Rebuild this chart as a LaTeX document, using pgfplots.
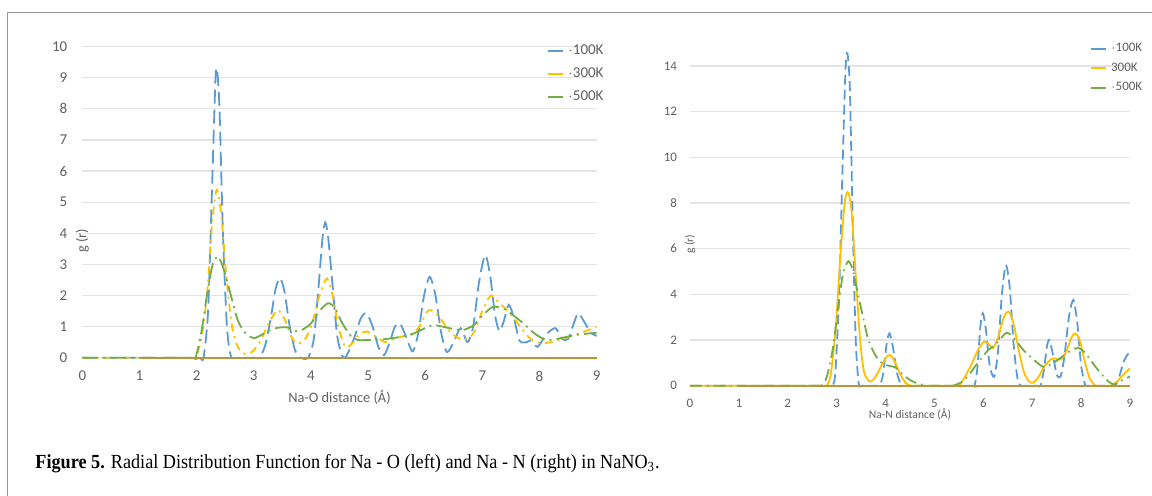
\documentclass[border=0pt]{standalone}
\usepackage{fontspec}
\setmainfont{Carlito}
\newfontfamily\capfont[FakeStretch=0.91]{Liberation Serif}
\usepackage{pgfplots}
\pgfplotsset{compat=1.18}

\definecolor{cblue}{RGB}{91,155,213}
\definecolor{cyellow}{RGB}{255,192,0}
\definecolor{cgreen}{RGB}{112,173,71}
\definecolor{cbase}{RGB}{184,148,58}
\definecolor{cgrid}{RGB}{228,228,228}
\definecolor{ctext}{RGB}{96,96,96}
\definecolor{cframe}{RGB}{150,150,150}

\pgfplotsset{
  rdf/.style={
    scale only axis,
    xmin=0, xmax=9, ymin=0,
    xtick={0,...,9},
    axis line style={draw=none},
    tick style={draw=none},
    ymajorgrids, grid style={cgrid, line width=0.6pt},
    /pgf/number format/assume math mode=true,
    ticklabel style={text=ctext},
    label style={text=ctext},
    clip=false,
    legend cell align=left,
    legend style={draw=none, fill=none, inner sep=0pt, text=ctext},
    legend image code/.code={\draw[#1, solid, line width=0.9pt] (0pt,0pt) -- (7.5pt,0pt);},
    every axis plot/.append style={line width=0.9pt, smooth, tension=0.45},
  },
}

\begin{document}
\begin{tikzpicture}
\path[use as bounding box] (0,0) rectangle (576pt,248pt);
\draw[cframe, line width=0.6pt] (3.75pt,-2pt) -- (3.75pt,241.65pt) -- (580pt,241.65pt);

% left: Na-O
\begin{axis}[rdf,
  at={(41.2pt,69.15pt)}, anchor=south west,
  width=257.1pt, height=155.5pt,
  ymax=10, ytick={0,...,10},
  ticklabel style={font=\fontsize{7.5}{8}\selectfont},
  xticklabel style={yshift=-3pt},
  yticklabel style={xshift=-4pt},
  xlabel={Na-O distance (Å)},
  ylabel={g (r)},
  label style={font=\fontsize{7.2}{8}\selectfont},
  x label style={at={(axis description cs:0.5,0)}, anchor=center, yshift=-20pt},
  y label style={at={(axis description cs:0,0.5)}, anchor=center, xshift=-19.4pt},
  legend style={at={(rel axis cs:0.9035,1.02)}, anchor=north west,
    font=\fontsize{7.5}{8}\selectfont, row sep=1pt},
]
\addplot[cblue, dash pattern=on 7pt off 3pt] coordinates {
(0,0)(1,0)(2,0)(2.06,0)(2.12,0)(2.2,1.5)(2.27,5.5)(2.33,9.0)(2.36,9.2)(2.4,8.0)(2.46,4.0)(2.53,1.0)(2.6,0.05)(2.7,0)(3.0,0)(3.1,0)(3.2,0.4)(3.3,1.3)(3.38,2.2)(3.46,2.56)(3.54,2.1)(3.62,1.1)(3.72,0.25)(3.82,0)(3.95,0)(4.05,0.6)(4.13,2.2)(4.2,3.8)(4.25,4.35)(4.3,3.9)(4.38,2.3)(4.46,0.7)(4.55,0.05)(4.62,0.05)(4.75,0.6)(4.87,1.25)(4.97,1.43)(5.08,1.0)(5.18,0.35)(5.28,0.08)(5.38,0.5)(5.47,1.0)(5.56,1.1)(5.66,0.7)(5.78,0.2)(5.88,0.8)(5.98,2.0)(6.08,2.6)(6.18,2.0)(6.28,0.8)(6.38,0.18)(6.5,0.5)(6.62,0.95)(6.74,0.5)(6.84,1.0)(6.94,2.4)(7.05,3.3)(7.14,2.6)(7.22,1.4)(7.3,0.85)(7.38,1.2)(7.46,1.7)(7.55,1.3)(7.65,0.55)(7.78,0.5)(7.85,0.55)(7.97,0.35)(8.12,0.75)(8.28,0.95)(8.4,0.6)(8.5,0.6)(8.6,1.1)(8.68,1.43)(8.8,1.1)(8.9,0.8)(9,0.7)
};
\addlegendentry{$\cdot$100K}
\addplot[cyellow, dash pattern=on 4pt off 2.5pt on 1pt off 2.5pt] coordinates {
(0,0)(1,0)(1.92,0)(1.98,0)(2.08,0.6)(2.18,2.0)(2.27,4.3)(2.35,5.4)(2.43,4.6)(2.52,2.6)(2.62,1.0)(2.72,0.35)(2.85,0.12)(2.98,0.2)(3.12,0.55)(3.26,1.1)(3.42,1.53)(3.55,1.2)(3.65,0.7)(3.76,0.45)(3.9,0.6)(4.02,1.1)(4.15,2.0)(4.28,2.55)(4.38,2.0)(4.48,1.0)(4.6,0.35)(4.72,0.45)(4.85,0.75)(4.98,0.84)(5.12,0.7)(5.3,0.5)(5.45,0.6)(5.6,0.68)(5.75,0.72)(5.9,1.0)(6.02,1.45)(6.1,1.53)(6.25,1.3)(6.45,0.8)(6.67,0.57)(6.85,0.8)(7.0,1.5)(7.15,2.0)(7.3,1.75)(7.5,1.4)(7.7,0.9)(7.85,0.6)(8.02,0.47)(8.2,0.5)(8.4,0.6)(8.6,0.72)(8.8,0.85)(9,1.0)
};
\addlegendentry{$\cdot$300K}
\addplot[cgreen, dash pattern=on 8pt off 2.5pt on 1pt off 2.5pt] coordinates {
(0,0)(1,0)(1.92,0)(1.98,0)(2.08,0.8)(2.18,2.0)(2.28,3.0)(2.38,3.25)(2.48,2.8)(2.6,2.0)(2.72,1.2)(2.85,0.8)(3.0,0.63)(3.15,0.75)(3.3,0.9)(3.45,0.97)(3.6,0.97)(3.72,0.85)(3.85,0.9)(4.0,1.1)(4.15,1.5)(4.3,1.75)(4.42,1.6)(4.55,1.1)(4.7,0.7)(4.82,0.57)(5.0,0.57)(5.2,0.58)(5.4,0.62)(5.6,0.68)(5.8,0.78)(6.0,0.95)(6.14,1.05)(6.3,1.0)(6.5,0.92)(6.67,0.89)(6.85,1.05)(7.0,1.35)(7.19,1.64)(7.4,1.55)(7.55,1.35)(7.72,1.1)(7.9,0.8)(8.05,0.62)(8.15,0.57)(8.3,0.6)(8.5,0.68)(8.7,0.75)(9,0.8)
};
\addlegendentry{$\cdot$500K}
\addplot[cbase, solid, sharp plot, forget plot] coordinates {(1,0)(9,0)};
\end{axis}

% right: Na-N
\begin{axis}[rdf,
  at={(345pt,55.15pt)}, anchor=south west,
  width=220pt, height=171.3pt,
  ymax=15, ytick={0,2,...,14},
  ticklabel style={font=\fontsize{6.5}{7}\selectfont},
  xticklabel style={yshift=-3pt},
  yticklabel style={xshift=-3pt},
  xlabel={Na-N distance (Å)},
  ylabel={g (r)},
  label style={font=\fontsize{5.8}{7}\selectfont},
  x label style={at={(axis description cs:0.5,0)}, anchor=center, yshift=-14.2pt},
  y label style={at={(axis description cs:0,0.5)}, anchor=center, xshift=-15pt},
  legend style={at={(rel axis cs:0.909,1.013)}, anchor=north west,
    font=\fontsize{6.5}{7}\selectfont, row sep=0.1pt},
]
\addplot[cblue, dash pattern=on 5pt off 2.5pt] coordinates {
(0,0)(1,0)(2.85,0)(2.9,0)(2.97,0.5)(3.05,4.0)(3.12,9.5)(3.18,13.8)(3.22,14.55)(3.27,13.0)(3.33,7.0)(3.39,2.0)(3.45,0.1)(3.5,0)(3.55,0)(3.83,0)(3.88,0)(3.95,0.5)(4.02,1.8)(4.08,2.29)(4.15,1.7)(4.24,0.5)(4.33,0)(4.4,0)(5.77,0)(5.82,0)(5.88,0.8)(5.94,2.6)(5.99,3.17)(6.05,2.5)(6.13,0.9)(6.22,0.39)(6.3,1.5)(6.38,4.0)(6.46,5.28)(6.54,4.3)(6.62,1.8)(6.7,0.3)(6.77,0)(6.83,0)(7.11,0)(7.17,0)(7.24,0.7)(7.3,1.7)(7.35,2.0)(7.42,1.4)(7.5,0.5)(7.58,0.4)(7.66,1.3)(7.75,3.0)(7.84,3.75)(7.92,2.8)(8.0,0.9)(8.08,0.05)(8.12,0)(8.18,0)(8.64,0)(8.7,0)(8.78,0.4)(8.88,1.1)(8.96,1.38)(9,1.3)
};
\addlegendentry{$\cdot$100K}
\addplot[cyellow, solid] coordinates {
(0,0)(1,0)(2.74,0)(2.8,0)(2.88,0.5)(2.98,2.5)(3.08,5.8)(3.17,8.1)(3.24,8.45)(3.31,7.5)(3.4,4.5)(3.48,2.0)(3.56,0.6)(3.68,0.18)(3.8,0.4)(3.92,0.9)(4.02,1.25)(4.09,1.34)(4.18,1.1)(4.3,0.5)(4.42,0.1)(4.53,0)(4.6,0)(5.44,0)(5.5,0)(5.6,0.3)(5.75,0.9)(5.9,1.6)(6.02,1.93)(6.12,1.8)(6.2,1.65)(6.3,2.1)(6.42,3.0)(6.52,3.24)(6.62,2.7)(6.72,1.6)(6.83,0.6)(6.93,0.2)(7.02,0.13)(7.12,0.35)(7.25,0.85)(7.38,1.15)(7.45,1.2)(7.58,1.15)(7.7,1.5)(7.8,2.1)(7.88,2.29)(7.97,2.0)(8.07,1.1)(8.18,0.3)(8.3,0)(8.37,0)(8.53,0)(8.6,0)(8.72,0.15)(8.85,0.45)(9,0.76)
};
\addlegendentry{300K}
\addplot[cgreen, dash pattern=on 6pt off 2.5pt on 0.8pt off 2.5pt] coordinates {
(0,0)(1,0)(2.62,0)(2.69,0)(2.8,0.4)(2.92,1.6)(3.03,3.4)(3.13,4.9)(3.24,5.45)(3.34,5.0)(3.44,3.97)(3.55,2.9)(3.65,2.0)(3.8,1.3)(3.95,0.95)(4.05,0.88)(4.2,0.8)(4.35,0.5)(4.5,0.25)(4.65,0.1)(4.85,0)(4.95,0)(5.3,0)(5.38,0)(5.55,0.15)(5.7,0.45)(5.85,0.9)(6.0,1.3)(6.1,1.56)(6.22,1.75)(6.35,2.05)(6.48,2.32)(6.62,2.1)(6.82,1.56)(7.0,1.2)(7.22,0.83)(7.4,0.95)(7.6,1.25)(7.8,1.55)(7.94,1.65)(8.08,1.45)(8.25,0.95)(8.4,0.55)(8.55,0.2)(8.68,0.05)(8.8,0.2)(9,0.4)
};
\addlegendentry{$\cdot$500K}
\addplot[cbase, solid, sharp plot, forget plot] coordinates {(1,0)(9,0)};
\end{axis}

\node[anchor=base west, inner sep=0pt, font=\capfont\fontsize{10}{12}\selectfont]
  at (17.5pt,13.5pt) {\textbf{Figure 5.} Radial Distribution Function for Na - O (left) and Na - N (right) in NaNO\textsubscript{3}.};
\end{tikzpicture}
\end{document}
